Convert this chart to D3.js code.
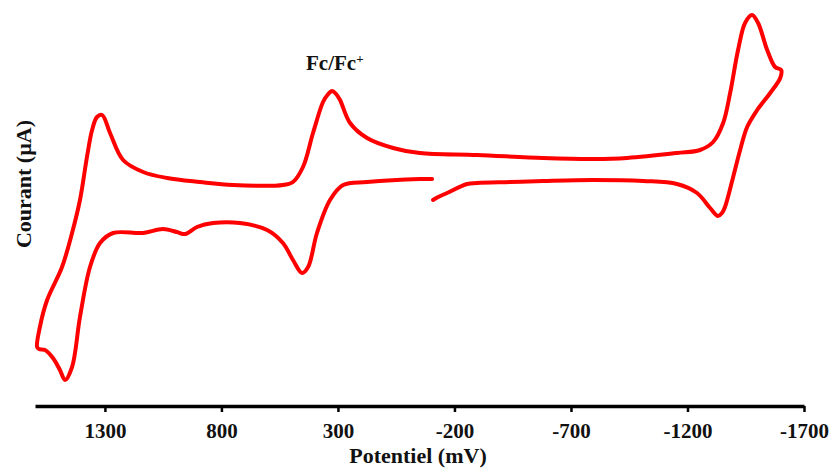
<!DOCTYPE html>
<html><head><meta charset="utf-8">
<script src="https://cdn.jsdelivr.net/npm/d3@7"></script>
<style>
body{margin:0;background:#fff;}
svg{display:block;}
</style></head>
<body>
<svg id="c" width="830" height="470"></svg>
<script>
// Potential (mV) and current (arbitrary µA units), traced in scan order
const potential = [-108,-130,-168,-254,-297,-439,-580,-795,-1010,-1155,-1241,-1297,-1331,-1348,-1361,-1396,-1426,-1456,-1499,-1555,-1598,-1602,
  -1576,-1542,-1503,-1477,-1447,-1417,-1383,-1353,-1310,-1254,-1155,-941,-795,-580,-297,-52,63,175,248,291,308,325,345,364,407,450,493,536,750,892,1033,1136,1222,1278,1312,1334,1355,1377,1407,1441,1484,1548,1579,1591,
  1583,1557,1523,1493,1471,1441,1407,1364,1321,1265,1136,1051,991,956,905,836,720,604,536,493,454,428,390,334,278,175,-52,-104];
const current = [7.0,7.3,7.7,8.6,8.7,8.8,8.9,9.0,8.9,8.6,7.7,6.2,5.4,5.7,6.3,9.3,12.0,14.3,16.0,17.7,19.2,20.0,
  20.3,22.0,24.7,25.5,24.7,22.0,17.7,14.7,12.8,12.0,11.7,11.2,11.1,11.2,11.5,11.7,12.2,13.2,14.7,17.0,17.6,17.9,17.5,16.8,13.7,10.3,8.8,8.5,8.5,8.8,9.2,9.8,11.0,13.7,15.5,15.3,14.0,11.3,7.0,3.7,0.3,-3.0,-5.7,-7.7,
  -7.9,-8.0,-8.8,-10.0,-11.0,-9.7,-4.7,0.3,2.7,3.7,3.7,4.1,3.8,3.6,4.3,4.7,4.7,4.0,2.7,1.0,-0.3,0.3,3.7,7.0,8.5,8.8,9.1,9.1];
const tickValues = [1300, 800, 300, -200, -700, -1200, -1700];
const xTitle = "Potentiel (mV)";
const yTitle = "Courant (µA)";
const peakLabel = "Fc/Fc";

const svg = d3.select("#c");
const x = d3.scaleLinear().domain([1600, -1700]).range([35, 804]);
const y = d3.scaleLinear().domain([-13.6, 27]).range([406, 0]);
const font = "'Liberation Serif', 'Times New Roman', serif";

const pts = potential.map((p, i) => [p, current[i]]);
svg.append("path")
  .datum(pts)
  .attr("fill", "none")
  .attr("stroke", "#ff0000")
  .attr("stroke-width", 4)
  .attr("stroke-linecap", "round")
  .attr("stroke-linejoin", "round")
  .attr("d", d3.line().x(d => x(d[0])).y(d => y(d[1])).curve(d3.curveCatmullRom.alpha(0.5)));

const ax = svg.append("g")
  .attr("transform", "translate(0,406)")
  .call(d3.axisBottom(x).tickValues(tickValues).tickSizeOuter(0).tickSizeInner(6).tickPadding(11).tickFormat(d3.format("d")));
ax.select(".domain").attr("stroke", "#000").attr("stroke-width", 3.5);
ax.selectAll(".tick line").attr("stroke", "#000").attr("stroke-width", 2.5);
ax.selectAll(".tick text")
  .attr("font-family", font).attr("font-weight", "bold").attr("font-size", 21).attr("fill", "#111");
ax.selectAll(".tick text").text(d => d < 0 ? "-" + Math.abs(d) : d);

svg.append("text")
  .attr("x", 418).attr("y", 463)
  .attr("text-anchor", "middle")
  .attr("font-family", font).attr("font-weight", "bold").attr("font-size", 22).attr("fill", "#111")
  .text(xTitle);

svg.append("text")
  .attr("transform", "translate(31,184) rotate(-90)")
  .attr("text-anchor", "middle")
  .attr("font-family", font).attr("font-weight", "bold").attr("font-size", 22).attr("fill", "#111")
  .text(yTitle);

const fl = svg.append("text")
  .attr("x", 306).attr("y", 70)
  .attr("font-family", font).attr("font-weight", "bold").attr("font-size", 21).attr("fill", "#111")
  .text(peakLabel);
fl.append("tspan").attr("dy", -7).attr("font-size", 13).text("+");
</script>
</body></html>
